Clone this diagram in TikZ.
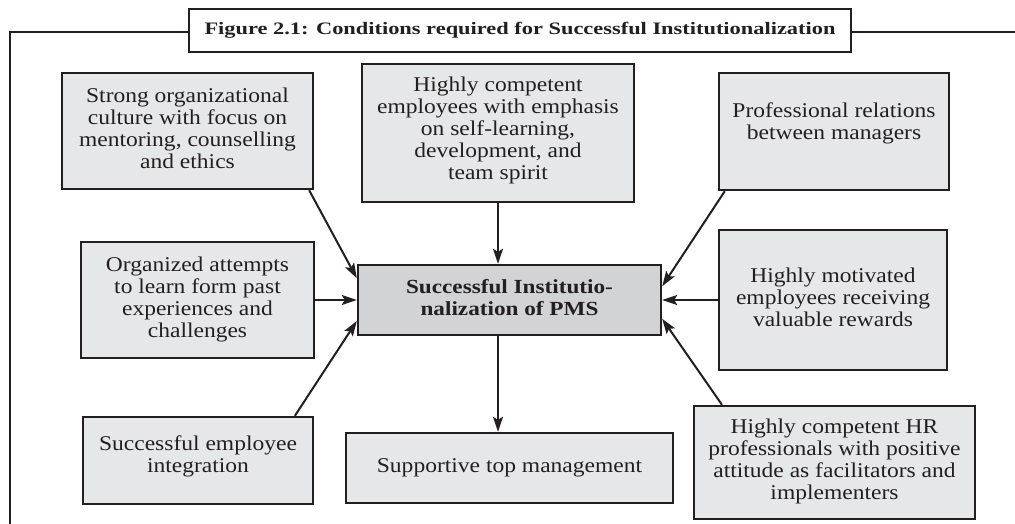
\documentclass[tikz,border=0pt]{standalone}
\usepackage{fontspec}
\setmainfont{Liberation Serif}
\usepackage{graphicx}
\usetikzlibrary{arrows.meta,calc}
\definecolor{ink}{HTML}{231F20}
\definecolor{boxfill}{HTML}{E6E7E8}
\definecolor{hubfill}{HTML}{D1D3D4}
\newcommand{\mltext}[2][1.12]{\scalebox{#1}[1]{\begin{tabular}{@{}c@{}}#2\end{tabular}}}
\begin{document}
\begin{tikzpicture}[x=1pt,y=-1pt,
  cbox/.style={draw=ink, line width=2.4pt, fill=boxfill, inner sep=0pt, text=ink,
    font=\fontsize{21}{22}\selectfont},
  hub/.style={cbox, fill=hubfill, font=\bfseries\fontsize{20}{22}\selectfont},
  titlebox/.style={draw=ink, line width=2.4pt, fill=white, inner sep=0pt, text=ink,
    font=\bfseries\fontsize{17.5}{20}\selectfont},
  arr/.style={draw=ink, line width=2pt, -{Stealth[length=15pt,width=10pt,inset=3pt]}},
  framel/.style={draw=ink, line width=2pt}]
\useasboundingbox (0,0) rectangle (1015,524);

\node[titlebox, minimum width=662pt, minimum height=43pt] (T) at (520,30.5)
  {\mltext[1.28]{Figure 2.1: Conditions required for Successful Institutionalization}};

\node[cbox, minimum width=251pt, minimum height=116pt] (A) at (187.5,131)
  {\mltext{Strong organizational\\ culture with focus on\\ mentoring, counselling\\ and ethics}};
\node[cbox, minimum width=272pt, minimum height=138pt] (B) at (498,133)
  {\raisebox{2pt}[\height][\depth]{\mltext{Highly competent\\ employees with emphasis\\ on self-learning,\\ development, and\\ team spirit}}};
\node[cbox, minimum width=230pt, minimum height=117pt] (C) at (834,131.5)
  {\raisebox{7pt}[\height][\depth]{\mltext{Professional relations\\ between managers}}};
\node[cbox, minimum width=233pt, minimum height=116pt] (D) at (197.5,300)
  {\mltext{Organized attempts\\ to learn form past\\ experiences and\\ challenges}};
\node[hub, minimum width=303pt, minimum height=70pt] (M) at (509.5,300)
  {\mltext[1.16]{Successful Institutio-\\ nalization of PMS}};
\node[cbox, minimum width=228pt, minimum height=140pt] (H) at (833,300)
  {\mltext{Highly motivated\\ employees receiving\\ valuable rewards}};
\node[cbox, minimum width=230pt, minimum height=87pt] (E) at (198,460.5)
  {\raisebox{3pt}[\height][\depth]{\mltext{Successful employee\\ integration}}};
\node[cbox, minimum width=327pt, minimum height=70pt] (F) at (509.5,468)
  {\mltext{Supportive top management}};
\node[cbox, minimum width=281pt, minimum height=113pt] (G) at (834.5,462.5)
  {\mltext{Highly competent HR\\ professionals with positive\\ attitude as facilitators and\\ implementers}};

\coordinate (ftl) at (10,32);
\coordinate (fbl) at (10,524);
\coordinate (ftr) at (1015,32);
\draw[framel] (T.west |- ftl) -- (ftl) -- (fbl);
\draw[framel] (T.east |- ftr) -- (ftr);

\draw[arr] ($(A.south west)!0.98!(A.south east)$) -- ($(M.north west)!0.2!(M.south west)$);
\draw[arr] (B.south) -- (B.south |- M.north);
\draw[arr] ($(C.south west)!0.03!(C.south east)$) -- ($(M.north east)!0.31!(M.south east)$);
\draw[arr] (D.east) -- (M.west);
\draw[arr] (H.west) -- (M.east);
\draw[arr] ($(E.north west)!0.917!(E.north east)$) -- ($(M.north west)!0.79!(M.south west)$);
\draw[arr] (M.south -| B.south) -- (F.north -| B.south);
\draw[arr] ($(G.north west)!0.103!(G.north east)$) -- ($(M.north east)!0.76!(M.south east)$);
\end{tikzpicture}
\end{document}
